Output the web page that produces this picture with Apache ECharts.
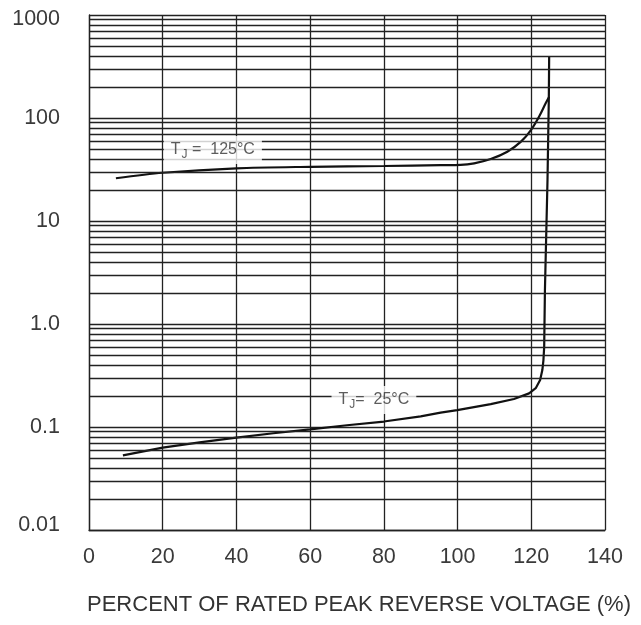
<!DOCTYPE html>
<html>
<head>
<meta charset="utf-8">
<script src="https://cdn.jsdelivr.net/npm/echarts@6/dist/echarts.min.js"></script>
<style>
html,body{margin:0;padding:0;background:#fff;}
#c{width:641px;height:625px;}
</style>
</head>
<body>
<div id="c"></div>
<script>
// ---- data ----
const xTicks = [0, 20, 40, 60, 80, 100, 120, 140];
const yTickLabels = ['0.01', '0.1', '1.0', '10', '100', '1000'];
const decades = [0.01, 0.1, 1, 10, 100];
const minorMultipliers = [2, 3, 4, 5, 6, 7, 8, 9];

const tj125 = [
  [7.3, 26], [20, 29.4], [40, 32.5], [60, 33.6], [80, 34.2], [95.4, 34.8],
  [100.8, 35.0], [104.5, 36.3], [109.0, 40.0], [113.5, 47.1], [117.2, 58.9],
  [119.9, 76.4], [122.1, 103], [123.9, 139], [124.85, 161]
];
const tj25 = [
  [9.2, 0.053], [20, 0.063], [30, 0.071], [40, 0.079], [50, 0.087],
  [60, 0.095], [70, 0.104], [80, 0.113], [90, 0.127], [95.4, 0.138],
  [99.9, 0.146], [109, 0.167], [115.3, 0.187], [119.4, 0.212], [121.2, 0.238],
  [122.4, 0.286], [123.0, 0.357], [123.3, 0.447], [123.5, 0.6],
  [123.7, 2.1], [124.4, 25], [124.76, 156], [124.85, 400]
];
const curveLabels = [
  { name: '125', pos: [33.6, 48.9], suffix: ' =  125°C' },
  { name: '25', pos: [77.3, 0.183], suffix: '=  25°C' }
];
// ---------------------------------------

const minorLines = [];
decades.forEach(d => minorMultipliers.forEach(m => minorLines.push({ yAxis: +(d * m).toPrecision(3) })));

const gridColor = '#222';
const labelFont = 'Liberation Sans, Arial, sans-serif';

const chart = echarts.init(document.getElementById('c'), null, { renderer: 'canvas' });
chart.setOption({
  animation: false,
  backgroundColor: '#fff',
  grid: { left: 89, right: 36, top: 15, bottom: 95, containLabel: false },
  xAxis: {
    type: 'value', min: xTicks[0], max: xTicks[xTicks.length - 1], interval: 20,
    name: 'PERCENT OF RATED PEAK REVERSE VOLTAGE (%)',
    nameLocation: 'middle', nameGap: 64,
    nameTextStyle: { fontFamily: labelFont, fontSize: 22, color: '#333', padding: [0, 0, 0, 24] },
    axisLine: { show: true, lineStyle: { color: gridColor, width: 1.3 } },
    axisTick: { show: false },
    axisLabel: { margin: 16, fontFamily: labelFont, fontSize: 21.5, color: '#3a3a3a' },
    splitLine: { show: true, lineStyle: { color: gridColor, width: 1.3 } }
  },
  yAxis: {
    type: 'log', logBase: 10, min: 0.01, max: 1000,
    axisLine: { show: true, lineStyle: { color: gridColor, width: 1.3 } },
    axisTick: { show: false },
    axisLabel: {
      margin: 29, fontFamily: labelFont, fontSize: 21.5, color: '#3a3a3a',
      formatter: v => {
        const i = Math.round(Math.log10(v)) + 2;
        if (i === yTickLabels.length - 1) return '{top|' + yTickLabels[i] + '}';
        if (i === 0) return '{bot|' + yTickLabels[i] + '}';
        return yTickLabels[i];
      },
      rich: {
        top: { fontFamily: labelFont, fontSize: 21.5, color: '#3a3a3a', padding: [9, 0, 0, 0] },
        bot: { fontFamily: labelFont, fontSize: 21.5, color: '#3a3a3a', padding: [0, 0, 9, 0] }
      }
    },
    splitLine: { show: true, lineStyle: { color: gridColor, width: 1.3 } }
  },
  series: [
    {
      type: 'line', data: [], z: 1, silent: true,
      markLine: {
        silent: true, symbol: 'none', label: { show: false },
        lineStyle: { color: gridColor, width: 1.3, type: 'solid' },
        emphasis: { disabled: true },
        data: minorLines
      }
    },
    {
      type: 'line', name: '125', data: tj125, showSymbol: false, z: 3, smooth: 0.3,
      lineStyle: { color: '#111', width: 2.2 }
    },
    {
      type: 'line', name: '25', data: tj25, showSymbol: false, z: 3,
      lineStyle: { color: '#111', width: 2.2 }
    },
    {
      type: 'scatter', z: 5, silent: true, symbolSize: 0,
      itemStyle: { color: 'transparent' },
      data: curveLabels.map(l => ({
        value: l.pos,
        label: {
          show: true, position: 'inside',
          formatter: '{t|T}{s|J}{t|' + l.suffix + '}',
          backgroundColor: '#fff', padding: [5, 7, 5, 7],
          rich: {
            t: { fontFamily: labelFont, fontSize: 16, color: '#333', lineHeight: 18 },
            s: { fontFamily: labelFont, fontSize: 12, color: '#333', padding: [10, 0, 0, 1], lineHeight: 12 }
          }
        }
      }))
    }
  ]
});
</script>
</body>
</html>
